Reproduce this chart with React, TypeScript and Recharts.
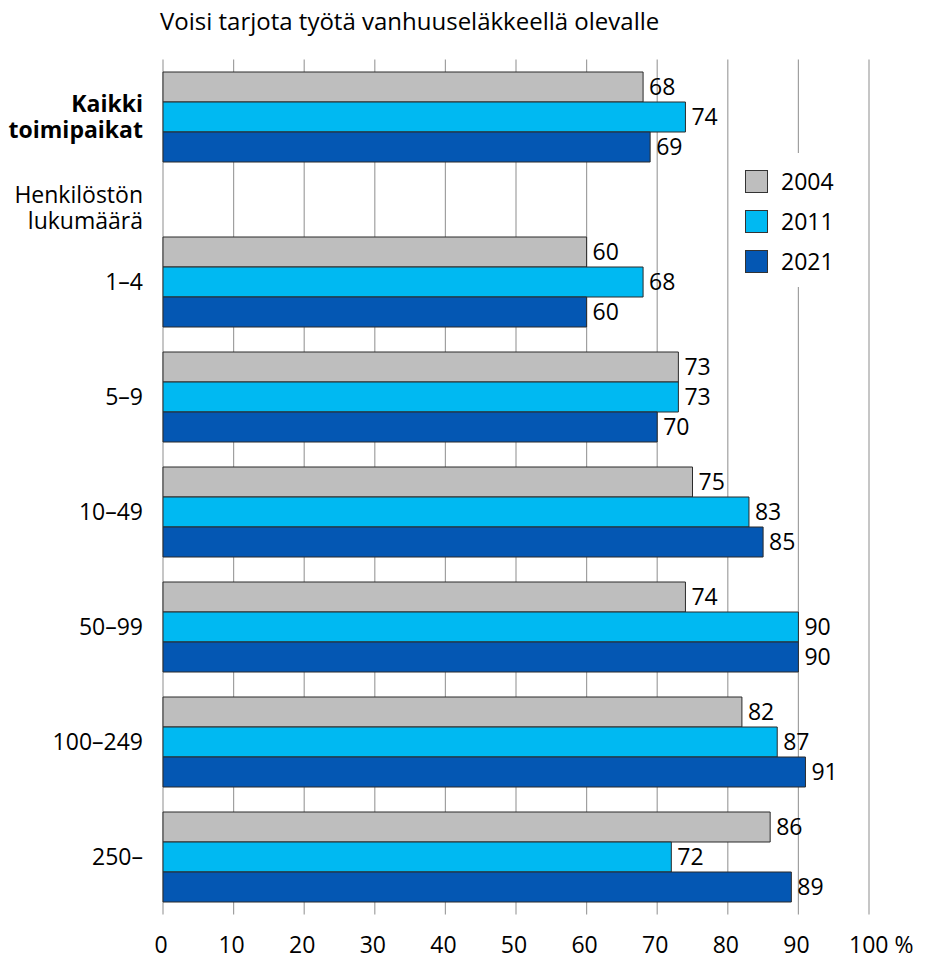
import { BarChart, Bar, XAxis, YAxis, CartesianGrid, LabelList, Legend } from "recharts";

// Share of workplaces (%) by personnel size class
const sizeClasses = ["1–4", "5–9", "10–49", "50–99", "100–249", "250–"];
const years = ["2004", "2011", "2021"];
const share2004 = [60, 73, 75, 74, 82, 86];
const share2011 = [68, 73, 83, 90, 87, 72];
const share2021 = [60, 70, 85, 90, 91, 89];

// All workplaces combined
const totalLabel = "Kaikki toimipaikat";
const totalValues = [68, 74, 69];

const groupHeading = "Henkilöstön lukumäärä";
const title = "Voisi tarjota työtä vanhuuseläkkeellä olevalle";
const xTicks = [0, 10, 20, 30, 40, 50, 60, 70, 80, 90, 100];

const colors = ["#bebebe", "#00b9f2", "#0457b3"];
const keys = ["y2004", "y2011", "y2021"];

const sizeRows = sizeClasses.map((group, i) => ({
  group,
  y2004: share2004[i],
  y2011: share2011[i],
  y2021: share2021[i],
}));
const totalRows = [
  { group: totalLabel, y2004: totalValues[0], y2011: totalValues[1], y2021: totalValues[2] },
];

const W = 927;
const H = 961;
const LEFT = 163;
const RIGHT = 58;
const TOP = 59.5;
const BAND = 115;
const HEADING_GAP = 50;
const X_AXIS_H = 46.5;
const FONT = 23;

const XTick = ({ x, y, payload }: any) => {
  const v = payload.value;
  const last = v === 100;
  return (
    <text
      x={last ? x - 20 : x - 2}
      y={y}
      dy="0.71em"
      textAnchor={last ? "start" : "middle"}
      fontSize={FONT}
      fill="#000"
    >
      {last ? "100 %" : v}
    </text>
  );
};

const LegendBox = ({ payload }: any) => (
  <div style={{ background: "#fff", padding: "8px 0 6px 8px", width: 112 }}>
    {(payload || []).map((entry: any) => (
      <div key={entry.value} style={{ display: "flex", alignItems: "center", height: 40 }}>
        <span
          style={{
            display: "inline-block",
            width: 21,
            height: 21,
            background: entry.color,
            border: "1px solid #333",
            marginRight: 13,
          }}
        />
        <span style={{ fontSize: FONT, color: "#000" }}>{entry.value}</span>
      </div>
    ))}
  </div>
);

// wrapped two-line row label left of the plot
const SideLabel = ({ text, top, bold }: { text: string; top: number; bold?: boolean }) => (
  <div
    style={{
      position: "absolute",
      left: 3,
      width: 140,
      top,
      fontSize: FONT,
      lineHeight: "26px",
      fontWeight: bold ? "bold" : "normal",
      textAlign: "right",
      color: "#000",
    }}
  >
    {text}
  </div>
);

const renderBars = () =>
  keys.map((k, i) => (
    <Bar
      key={k}
      dataKey={k}
      name={years[i]}
      fill={colors[i]}
      stroke="#2b2b2b"
      strokeWidth={1}
      isAnimationActive={false}
    >
      <LabelList dataKey={k} position="right" offset={6} fill="#000" fontSize={FONT} />
    </Bar>
  ));

export default function App() {
  return (
    <div
      style={{
        position: "absolute",
        left: 0,
        top: 0,
        width: W,
        height: H,
        background: "#fff",
        fontFamily: "'Open Sans', sans-serif",
      }}
    >
      <div
        style={{
          position: "absolute",
          left: LEFT - 3,
          top: 7,
          fontSize: 24,
          lineHeight: "28px",
          color: "#000",
          whiteSpace: "nowrap",
        }}
      >
        {title}
      </div>

      {/* size classes, with grid and x axis across the whole plot */}
      <div style={{ position: "absolute", left: 0, top: 0 }}>
        <BarChart
          width={W}
          height={H}
          data={sizeRows}
          layout="vertical"
          margin={{ top: TOP, right: RIGHT, bottom: 0, left: 0 }}
          barCategoryGap={12.5}
          barGap={0}
        >
          <CartesianGrid horizontal={false} stroke="#a0a0a0" strokeWidth={1.2} />
          <XAxis
            type="number"
            domain={[0, 100]}
            ticks={xTicks}
            axisLine={false}
            tickLine={false}
            tickMargin={16}
            height={X_AXIS_H}
            tick={<XTick />}
          />
          <YAxis
            type="category"
            dataKey="group"
            width={LEFT}
            axisLine={false}
            tickLine={false}
            tickMargin={14}
            padding={{ top: BAND + HEADING_GAP, bottom: 0 }}
            tick={{ fill: "#000", fontSize: FONT }}
          />
          <Legend
            layout="vertical"
            align="center"
            verticalAlign="middle"
            wrapperStyle={{ top: 153, left: 737, width: 120 }}
            content={<LegendBox />}
          />
          {renderBars()}
        </BarChart>
      </div>

      {/* all workplaces row on top */}
      <div style={{ position: "absolute", left: 0, top: 0 }}>
        <BarChart
          width={W}
          height={TOP + BAND + 4}
          data={totalRows}
          layout="vertical"
          margin={{ top: TOP, right: RIGHT, bottom: 4, left: 0 }}
          barCategoryGap={12.5}
          barGap={0}
        >
          <XAxis type="number" domain={[0, 100]} ticks={xTicks} hide />
          <YAxis
            type="category"
            dataKey="group"
            width={LEFT}
            axisLine={false}
            tickLine={false}
            tick={false}
          />
          {renderBars()}
        </BarChart>
      </div>

      <SideLabel text={totalLabel} top={90} bold />
      <SideLabel text={groupHeading} top={181} />
    </div>
  );
}
